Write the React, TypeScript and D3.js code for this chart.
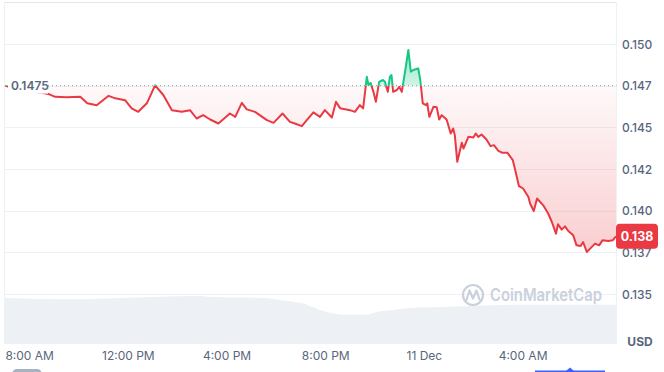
import React from "react";
import * as d3 from "d3";

// time in minutes since 00:00 Dec 10, price in USD
const priceSeries: [number, number][] = [
  [420, 0.1475], [438, 0.14736], [462, 0.14718], [491, 0.14712], [513, 0.14706],
  [528, 0.14698], [542, 0.14683], [570, 0.1468], [603, 0.14683], [620, 0.14644],
  [643, 0.14633], [672, 0.14689], [688, 0.14674], [712, 0.14663], [728, 0.14614],
  [744, 0.14593], [765, 0.14644], [785, 0.14752], [805, 0.14694], [826, 0.14603],
  [850, 0.14593], [870, 0.14603], [886, 0.14553], [902, 0.14573], [919, 0.14547],
  [939, 0.14523], [967, 0.14583], [980, 0.14563], [996, 0.14647], [1008, 0.14608],
  [1028, 0.14593], [1057, 0.14543], [1073, 0.14527], [1095, 0.14583], [1113, 0.14533],
  [1125, 0.14523], [1142, 0.14507], [1154, 0.14543], [1170, 0.1459], [1186, 0.14563],
  [1198, 0.14603], [1215, 0.14559], [1225, 0.14653], [1235, 0.14615], [1259, 0.14603],
  [1271, 0.14593], [1283, 0.14633], [1291, 0.14614], [1300, 0.14803], [1304, 0.14754],
  [1309, 0.14767], [1316, 0.14713], [1322, 0.14653], [1330, 0.14773], [1339, 0.14784],
  [1344, 0.14773], [1351, 0.14713], [1356, 0.14803], [1360, 0.14814], [1364, 0.14713],
  [1373, 0.14724], [1379, 0.14743], [1385, 0.14713], [1393, 0.14834], [1401, 0.14964],
  [1407, 0.14834], [1413, 0.14844], [1425, 0.14854], [1430, 0.14784], [1436, 0.14644],
  [1444, 0.14633], [1447, 0.14644], [1452, 0.14563], [1462, 0.14623], [1470, 0.1462],
  [1476, 0.14547], [1482, 0.14573], [1494, 0.14547], [1504, 0.14463], [1510, 0.14493],
  [1514, 0.14453], [1520, 0.14293], [1531, 0.14407], [1535, 0.14373], [1547, 0.14443],
  [1559, 0.14439], [1565, 0.14463], [1571, 0.14443], [1579, 0.14457], [1591, 0.14427],
  [1601, 0.14387], [1609, 0.14393], [1620, 0.14359], [1630, 0.14347], [1642, 0.14347],
  [1655, 0.14303], [1660, 0.14253], [1670, 0.14147], [1680, 0.14133], [1693, 0.14082],
  [1697, 0.14043], [1706, 0.13998], [1714, 0.14073], [1729, 0.14032], [1741, 0.13983],
  [1750, 0.13932], [1760, 0.13862], [1765, 0.13918], [1774, 0.13886], [1782, 0.13906],
  [1790, 0.13878], [1802, 0.13852], [1810, 0.13792], [1820, 0.13788], [1826, 0.13812],
  [1835, 0.13752], [1843, 0.13772], [1855, 0.13802], [1865, 0.13792], [1873, 0.13822],
  [1887, 0.13818], [1898, 0.13822], [1906, 0.13846],
];

// 24h volume (millions USD) keyed by minutes
const volumeSeries: [number, number][] = [
  [420, 46], [598, 44.7], [700, 46], [785, 47], [894, 48], [919, 47], [1052, 46],
  [1089, 44], [1125, 42], [1150, 40], [1162, 38], [1186, 34], [1203, 32], [1242, 29.3],
  [1300, 29.3], [1324, 32], [1363, 34], [1405, 36], [1485, 37], [1568, 38.3],
  [1665, 39.3], [1906, 39.3],
];

const referencePrice = 0.1475;
const lastPrice = 0.13846;
const lastPriceLabel = "0.138";

const yTickValues = [0.15, 0.1475, 0.145, 0.1425, 0.14, 0.1375, 0.135];
const yTickLabels = ["0.150", "0.147", "0.145", "0.142", "0.140", "0.137", "0.135"];
const xTickValues = [480, 720, 960, 1200, 1440, 1680];
const xTickLabels = ["8:00 AM", "12:00 PM", "4:00 PM", "8:00 PM", "11 Dec", "4:00 AM"];

const W = 664;
const H = 372;
const PL = 4.5, PR = 616.5, PT = 2.5, PB = 344;
const FONT = "Inter, 'Noto Sans', sans-serif";
const RED = "#ea3943";
const GREEN = "#16c784";
const AXIS = "#58667e";

export default function App() {
  const x = d3.scaleLinear().domain([420, 1906]).range([5, 616]);
  const y = d3.scaleLinear().domain([0.135, 0.15]).range([294, 44]);
  const yv = d3.scaleLinear().domain([0, 48]).range([PB, PB - 48]);

  const baseY = y(referencePrice);
  const line = d3.line<[number, number]>().x(d => x(d[0])).y(d => y(d[1]));
  const area = d3.area<[number, number]>().x(d => x(d[0])).y0(baseY).y1(d => y(d[1]));
  const volArea = d3.area<[number, number]>()
    .x(d => x(d[0])).y0(PB).y1(d => yv(d[1])).curve(d3.curveMonotoneX);

  const linePath = line(priceSeries) || "";
  const areaPath = area(priceSeries) || "";

  return (
    <svg width={W} height={H} style={{ position: "absolute", left: 0, top: 0 }} fontFamily={FONT}>
      <defs>
        <clipPath id="above"><rect x={0} y={0} width={W} height={baseY} /></clipPath>
        <clipPath id="below"><rect x={0} y={baseY} width={W} height={H - baseY} /></clipPath>
        <linearGradient id="redGrad" gradientUnits="userSpaceOnUse" x1={0} y1={baseY} x2={0} y2={255}>
          <stop offset="0" stopColor={RED} stopOpacity={0.03} />
          <stop offset="1" stopColor={RED} stopOpacity={0.25} />
        </linearGradient>
        <linearGradient id="greenGrad" gradientUnits="userSpaceOnUse" x1={0} y1={48} x2={0} y2={baseY}>
          <stop offset="0" stopColor={GREEN} stopOpacity={0.45} />
          <stop offset="1" stopColor={GREEN} stopOpacity={0.2} />
        </linearGradient>
      </defs>

      {/* frame */}
      <line x1={PL} x2={PR} y1={PT} y2={PT} stroke="#e3e5e8" strokeWidth={1} />
      <line x1={PL} x2={PL} y1={PT} y2={PB} stroke="#eff1f4" strokeWidth={1} />
      <line x1={PR} x2={PR} y1={PT} y2={PB} stroke="#eff1f4" strokeWidth={1} />

      {/* gridlines */}
      {yTickValues.map((v, i) => (
        <line key={i} x1={PL} x2={PR} y1={Math.round(y(v)) + 0.5} y2={Math.round(y(v)) + 0.5}
          stroke="#eff2f5" strokeWidth={1} />
      ))}

      {/* volume */}
      <path d={volArea(volumeSeries) || ""} fill="#edf0f4" />

      {/* watermark */}
      <g opacity={1}>
        <circle cx={473} cy={295} r={10} fill="none" stroke="#cad1dd" strokeWidth={2.2} />
        <path d="M466.5,300 L469.5,290.5 L473,298.5 L476.5,290.5 L479.5,299.5" fill="none"
          stroke="#cad1dd" strokeWidth={2.2} strokeLinejoin="round" strokeLinecap="round" />
        <text x={490} y={295} dominantBaseline="central" fontSize={17} fontWeight={600}
          fill="#cad1dd" textLength={112} lengthAdjust="spacingAndGlyphs">CoinMarketCap</text>
      </g>

      {/* areas */}
      <path d={areaPath} fill="url(#redGrad)" clipPath="url(#below)" />
      <path d={areaPath} fill="url(#greenGrad)" clipPath="url(#above)" />

      {/* reference dotted line */}
      <line x1={48} x2={PR} y1={baseY} y2={baseY} stroke="#8f949c" strokeWidth={1} strokeDasharray="1 3" />

      {/* price line */}
      <path d={linePath} fill="none" stroke={RED} strokeWidth={2} strokeLinejoin="round" clipPath="url(#below)" />
      <path d={linePath} fill="none" stroke={GREEN} strokeWidth={2} strokeLinejoin="round" clipPath="url(#above)" />

      {/* reference label */}
      <rect x={8} y={baseY - 8} width={40} height={16} fill="#fff" />
      <text x={11} y={baseY} dominantBaseline="central" fontSize={12} fontWeight={600} fill={AXIS}>0.1475</text>

      {/* y axis labels */}
      {yTickValues.map((v, i) => (
        <text key={i} x={622} y={y(v)} dominantBaseline="central" fontSize={12} fontWeight={500} fill={AXIS}>
          {yTickLabels[i]}
        </text>
      ))}

      {/* last price badge */}
      <rect x={616} y={y(lastPrice) - 12.5} width={42} height={25} rx={4} fill={RED} />
      <text x={637} y={y(lastPrice)} textAnchor="middle" dominantBaseline="central" fontSize={12.5}
        fontWeight={700} fill="#fff">{lastPriceLabel}</text>

      {/* x axis labels */}
      {xTickValues.map((t, i) => (
        <text key={i} x={x(t)} y={355} textAnchor="middle" dominantBaseline="central" fontSize={12}
          fontWeight={400} fill={AXIS}>{xTickLabels[i]}</text>
      ))}
      <text x={640} y={341} textAnchor="middle" dominantBaseline="central" fontSize={12} fontWeight={700}
        fill={AXIS}>USD</text>

      {/* bottom controls (partially visible) */}
      <rect x={12} y={369} width={30} height={10} rx={5} fill="#a9b2c2" />
      <rect x={535} y={370.5} width={70} height={2} fill="#3861fb" />
      <path d="M566,371 L570,367.5 L574,371 Z" fill="#3861fb" />
    </svg>
  );
}
